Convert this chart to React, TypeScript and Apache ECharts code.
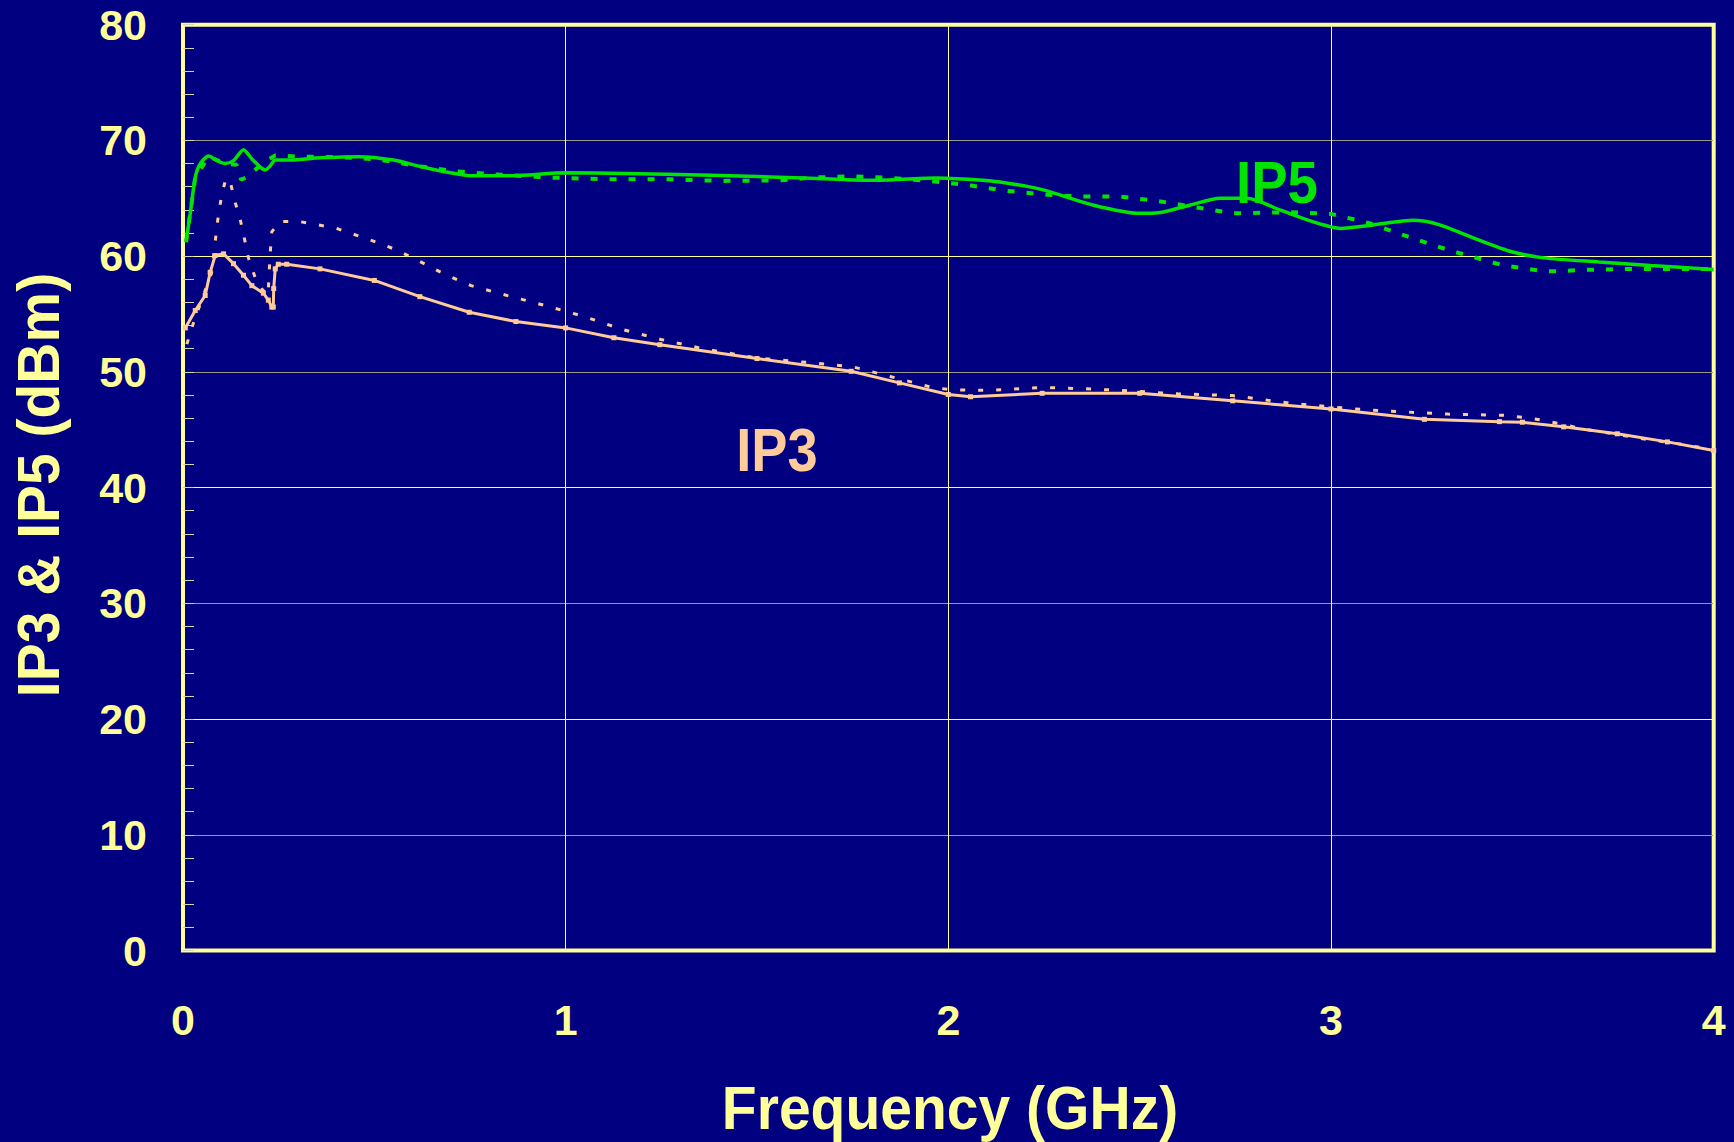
import React, { useEffect, useRef } from "react";
import * as echarts from "echarts";

// Frequency (GHz), dBm
const IP5_MEASURED: [number, number][] = [
  [0.008, 61.3], [0.019, 63.7], [0.032, 66.8], [0.045, 68.0], [0.067, 68.65], [0.089, 68.25],
  [0.11, 68.0], [0.132, 68.25], [0.158, 69.2], [0.18, 68.4], [0.202, 67.7], [0.215, 67.45],
  [0.228, 67.8], [0.241, 68.3], [0.28, 68.3], [0.36, 68.5], [0.46, 68.6], [0.55, 68.3],
  [0.62, 67.75], [0.70, 67.2], [0.75, 66.95], [0.86, 66.95], [1.0, 67.2], [1.15, 67.15],
  [1.38, 67.0], [1.62, 66.75], [1.80, 66.55], [1.965, 66.75], [2.07, 66.6], [2.135, 66.4],
  [2.245, 65.75], [2.38, 64.4], [2.5, 63.7], [2.55, 63.75], [2.63, 64.4], [2.71, 65.0],
  [2.78, 65.0], [2.87, 63.95], [2.95, 63.0], [3.025, 62.4], [3.11, 62.7], [3.215, 63.1],
  [3.28, 62.75], [3.37, 61.6], [3.465, 60.45], [3.556, 59.85], [3.70, 59.5], [3.835, 59.2],
  [4.0, 58.85],
];

const IP5_SIMULATED: [number, number][] = [
  [0.008, 61.2], [0.032, 66.8], [0.067, 68.6], [0.11, 68.0], [0.14, 67.9], [0.152, 66.6],
  [0.165, 66.8], [0.19, 67.5], [0.215, 68.2], [0.241, 68.7], [0.30, 68.6], [0.35, 68.6],
  [0.45, 68.5], [0.52, 68.3], [0.6, 67.85], [0.707, 67.35], [0.80, 67.1], [0.95, 66.8],
  [1.10, 66.65], [1.25, 66.65], [1.41, 66.5], [1.56, 66.55], [1.65, 66.8], [1.755, 66.9],
  [1.855, 66.75], [1.95, 66.5], [2.06, 66.1], [2.15, 65.65], [2.26, 65.3], [2.35, 65.15],
  [2.45, 65.15], [2.55, 64.75], [2.65, 64.2], [2.745, 63.7], [2.89, 63.8], [3.0, 63.65],
  [3.1, 62.85], [3.2, 61.7], [3.31, 60.5], [3.45, 59.2], [3.556, 58.7], [3.60, 58.7],
  [3.65, 58.8], [3.75, 58.88], [4.0, 58.9],
];

const IP3_MEASURED: [number, number][] = [
  [0.006, 53.8], [0.032, 55.3], [0.058, 56.6], [0.071, 58.6], [0.084, 60.05], [0.106, 60.2],
  [0.132, 59.35], [0.158, 58.35], [0.18, 57.45], [0.21, 56.8], [0.223, 56.2], [0.232, 55.6],
  [0.236, 55.6], [0.237, 57.2], [0.241, 58.9], [0.249, 59.3], [0.271, 59.3], [0.358, 58.9],
  [0.5, 57.9], [0.619, 56.5], [0.748, 55.15], [0.87, 54.35], [1.0, 53.8], [1.126, 52.95],
  [1.246, 52.35], [1.5, 51.15], [1.746, 50.05], [1.872, 49.05], [2.0, 48.05], [2.058, 47.85],
  [2.245, 48.15], [2.5, 48.15], [2.743, 47.5], [3.0, 46.8], [3.244, 45.9], [3.44, 45.7],
  [3.5, 45.65], [3.608, 45.25], [3.748, 44.65], [3.879, 43.95], [4.0, 43.2],
];

const IP3_SIMULATED: [number, number][] = [
  [0.010, 52.4], [0.028, 54.3], [0.05, 56.3], [0.075, 58.6], [0.087, 62.05], [0.093, 63.7],
  [0.102, 65.4], [0.112, 66.7], [0.123, 66.5], [0.135, 64.8], [0.15, 63.1], [0.161, 61.45],
  [0.171, 59.85], [0.188, 58.2], [0.205, 57.2], [0.222, 56.6], [0.228, 60.3], [0.232, 62.1],
  [0.254, 63.0], [0.302, 63.0], [0.354, 62.7], [0.401, 62.4], [0.454, 61.8], [0.506, 61.2],
  [0.553, 60.6], [0.601, 59.85], [0.683, 58.45], [0.753, 57.45], [0.858, 56.5], [0.951, 55.7],
  [1.056, 54.7], [1.149, 53.65], [1.249, 52.8], [1.359, 52.0], [1.5, 51.2], [1.604, 50.9],
  [1.749, 50.45], [1.848, 49.6], [1.953, 48.7], [2.006, 48.45], [2.104, 48.4], [2.25, 48.65],
  [2.35, 48.55], [2.45, 48.4], [2.6, 48.1], [2.743, 47.95], [2.903, 47.25], [3.098, 46.7],
  [3.306, 46.35], [3.452, 46.25], [3.508, 46.05], [3.556, 45.8], [3.608, 45.45], [3.652, 45.1],
  [3.748, 44.6], [3.809, 44.25], [3.905, 43.8], [4.0, 43.28],
];

const X_RANGE = { min: 0, max: 4, interval: 1 };
const Y_RANGE = { min: 0, max: 80, interval: 10 };

const X_TITLE = "Frequency (GHz)";
const Y_TITLE = "IP3 & IP5 (dBm)";
const IP5_LABEL = "IP5";
const IP3_LABEL = "IP3";

const NAVY = "#000080";
const YELLOW = "#ffff99";
const GREEN = "#00e400";
const PEACH = "#ffcc99";
const FONT = '"Liberation Sans", Arial, Helvetica, sans-serif';

export default function App() {
  const ref = useRef<HTMLDivElement>(null);

  useEffect(() => {
    if (!ref.current) return;
    const chart = echarts.init(ref.current, undefined, { renderer: "svg" });
    const option: any = {
      animation: false,
      backgroundColor: NAVY,
      grid: {
        left: 183,
        top: 24.7,
        right: 20.3,
        bottom: 191.5,
        show: true,
        borderColor: YELLOW,
        borderWidth: 4,
        backgroundColor: "transparent",
      },
      xAxis: {
        type: "value",
        min: X_RANGE.min,
        max: X_RANGE.max,
        interval: X_RANGE.interval,
        axisLine: { show: false },
        axisTick: { show: false },
        axisLabel: {
          color: YELLOW,
          fontFamily: FONT,
          fontWeight: "bold",
          fontSize: 43,
          margin: 48,
        },
        splitLine: { show: true, lineStyle: { color: YELLOW, width: 1 } },
      },
      yAxis: {
        type: "value",
        min: Y_RANGE.min,
        max: Y_RANGE.max,
        interval: Y_RANGE.interval,
        axisLine: { show: false },
        axisTick: {
          show: true,
          inside: true,
          length: 11,
          lineStyle: { color: "#d8d8b0", width: 1 },
        },
        minorTick: {
          show: true,
          splitNumber: 5,
          length: 11,
          lineStyle: { color: "#d8d8b0", width: 1 },
        },
        axisLabel: {
          color: YELLOW,
          fontFamily: FONT,
          fontWeight: "bold",
          fontSize: 43,
          margin: 36,
        },
        splitLine: {
          show: true,
          lineStyle: { color: [YELLOW, "#9a9a8c"], width: 1 },
        },
      },
      series: [
        {
          name: "IP5 measured",
          type: "line",
          data: IP5_MEASURED,
          symbol: "none",
          smooth: 0.25,
          lineStyle: { color: GREEN, width: 3.5 },
          z: 5,
        },
        {
          name: "IP5 simulated",
          type: "line",
          data: IP5_SIMULATED,
          symbol: "none",
          lineStyle: { color: GREEN, width: 4, type: [7, 12] },
          z: 4,
        },
        {
          name: "IP3 measured",
          type: "line",
          data: IP3_MEASURED,
          symbol: "rect",
          symbolSize: 5,
          showSymbol: true,
          itemStyle: { color: PEACH },
          lineStyle: { color: PEACH, width: 3 },
          z: 5,
        },
        {
          name: "IP3 simulated",
          type: "line",
          data: IP3_SIMULATED,
          symbol: "none",
          lineStyle: { color: PEACH, width: 3, type: [5, 13] },
          z: 4,
        },
      ],
      graphic: [
        {
          type: "text",
          x: 950,
          y: 1108,
          scaleX: 0.92,
          style: {
            text: X_TITLE,
            fill: YELLOW,
            font: `bold 62px ${FONT}`,
            align: "center",
            verticalAlign: "middle",
            textAlign: "center",
            textVerticalAlign: "middle",
          },
        },
        {
          type: "text",
          x: 38,
          y: 485,
          rotation: Math.PI / 2,
          scaleX: 0.95,
          style: {
            text: Y_TITLE,
            fill: YELLOW,
            font: `bold 60px ${FONT}`,
            align: "center",
            verticalAlign: "middle",
            textAlign: "center",
            textVerticalAlign: "middle",
          },
        },
        {
          type: "text",
          x: 1277,
          y: 182,
          scaleX: 0.91,
          style: {
            text: IP5_LABEL,
            fill: GREEN,
            font: `bold 60px ${FONT}`,
            align: "center",
            verticalAlign: "middle",
            textAlign: "center",
            textVerticalAlign: "middle",
          },
        },
        {
          type: "text",
          x: 777,
          y: 450,
          scaleX: 0.89,
          style: {
            text: IP3_LABEL,
            fill: PEACH,
            font: `bold 61px ${FONT}`,
            align: "center",
            verticalAlign: "middle",
            textAlign: "center",
            textVerticalAlign: "middle",
          },
        },
      ],
    };
    chart.setOption(option);
    return () => chart.dispose();
  }, []);

  return (
    <div
      ref={ref}
      style={{
        position: "absolute",
        left: 0,
        top: 0,
        width: 1734,
        height: 1142,
        background: NAVY,
      }}
    />
  );
}
